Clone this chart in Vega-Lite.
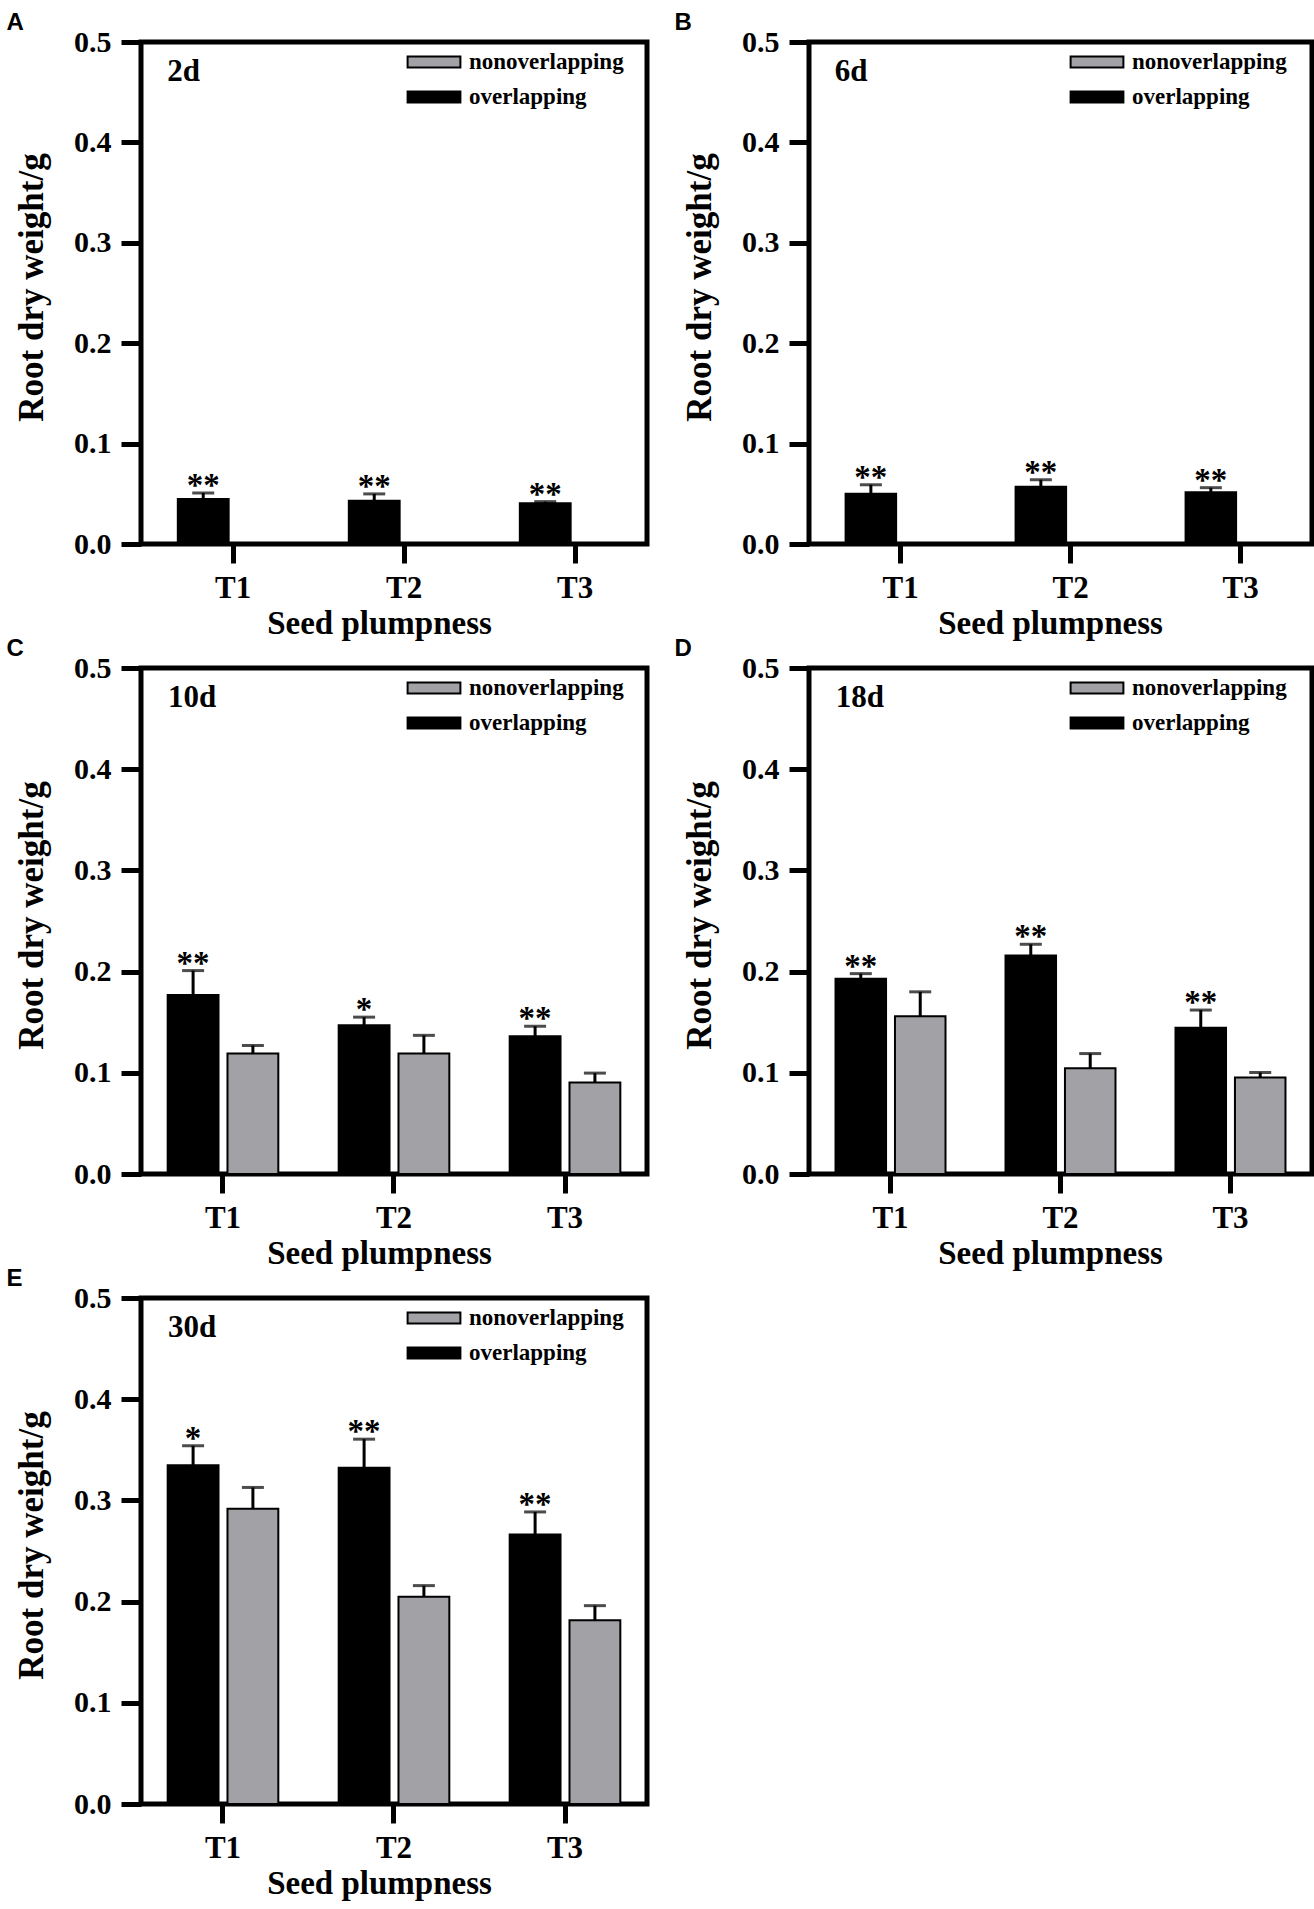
{
  "$schema": "https://vega.github.io/schema/vega-lite/v6.json",
  "description": "Root dry weight of overlapping and nonoverlapping seeds by seed plumpness at 2, 6, 10, 18 and 30 days.",
  "background": "white",
  "padding": {"left": 4, "top": 8, "right": 0, "bottom": 0},
  "datasets": {
    "rdw": [
      {"day": "2d", "T": "T1", "group": "overlapping", "value": 0.0448, "upper": 0.0508, "star": "**"},
      {"day": "2d", "T": "T2", "group": "overlapping", "value": 0.043, "upper": 0.0499, "star": "**"},
      {"day": "2d", "T": "T3", "group": "overlapping", "value": 0.0406, "upper": 0.0422, "star": "**"},
      {"day": "6d", "T": "T1", "group": "overlapping", "value": 0.05, "upper": 0.059, "star": "**"},
      {"day": "6d", "T": "T2", "group": "overlapping", "value": 0.057, "upper": 0.064, "star": "**"},
      {"day": "6d", "T": "T3", "group": "overlapping", "value": 0.0516, "upper": 0.0561, "star": "**"},
      {"day": "10d", "T": "T1", "group": "overlapping", "value": 0.177, "upper": 0.201, "star": "**"},
      {"day": "10d", "T": "T2", "group": "overlapping", "value": 0.147, "upper": 0.155, "star": "*"},
      {"day": "10d", "T": "T3", "group": "overlapping", "value": 0.136, "upper": 0.146, "star": "**"},
      {"day": "10d", "T": "T1", "group": "nonoverlapping", "value": 0.119, "upper": 0.127, "star": ""},
      {"day": "10d", "T": "T2", "group": "nonoverlapping", "value": 0.119, "upper": 0.137, "star": ""},
      {"day": "10d", "T": "T3", "group": "nonoverlapping", "value": 0.0905, "upper": 0.0997, "star": ""},
      {"day": "18d", "T": "T1", "group": "overlapping", "value": 0.193, "upper": 0.198, "star": "**"},
      {"day": "18d", "T": "T2", "group": "overlapping", "value": 0.216, "upper": 0.227, "star": "**"},
      {"day": "18d", "T": "T3", "group": "overlapping", "value": 0.1446, "upper": 0.162, "star": "**"},
      {"day": "18d", "T": "T1", "group": "nonoverlapping", "value": 0.156, "upper": 0.18, "star": ""},
      {"day": "18d", "T": "T2", "group": "nonoverlapping", "value": 0.1046, "upper": 0.119, "star": ""},
      {"day": "18d", "T": "T3", "group": "nonoverlapping", "value": 0.0953, "upper": 0.1003, "star": ""},
      {"day": "30d", "T": "T1", "group": "overlapping", "value": 0.3347, "upper": 0.354, "star": "*"},
      {"day": "30d", "T": "T2", "group": "overlapping", "value": 0.3323, "upper": 0.3605, "star": "**"},
      {"day": "30d", "T": "T3", "group": "overlapping", "value": 0.2663, "upper": 0.2886, "star": "**"},
      {"day": "30d", "T": "T1", "group": "nonoverlapping", "value": 0.2917, "upper": 0.3128, "star": ""},
      {"day": "30d", "T": "T2", "group": "nonoverlapping", "value": 0.2047, "upper": 0.2158, "star": ""},
      {"day": "30d", "T": "T3", "group": "nonoverlapping", "value": 0.1816, "upper": 0.196, "star": ""}
    ]
  },
  "data": {"name": "rdw"},
  "columns": 2,
  "bounds": "flush",
  "spacing": {"row": 124, "column": 162},
  "concat": [
    {
      "title": "A",
      "width": 506,
      "height": 502,
      "transform": [{"filter": "datum.day === '2d'"}],
      "encoding": {
        "x": {"field": "T", "type": "nominal", "scale": {"paddingInner": 0.353, "paddingOuter": 0.156, "align": 0.69}, "axis": {"title": "Seed plumpness", "titleX": 238}},
        "xOffset": {"field": "group", "type": "nominal", "scale": {"domain": ["overlapping", "nonoverlapping"], "paddingInner": 0.15, "paddingOuter": 0}},
        "y": {"field": "value", "type": "quantitative", "scale": {"domain": [0, 0.5], "nice": false}, "axis": {"title": "Root dry weight/g", "titleY": 245, "values": [0, 0.1, 0.2, 0.3, 0.4, 0.5], "format": ".1f"}}
      },
      "layer": [
        {"mark": {"type": "bar", "stroke": "black", "strokeWidth": 2},
         "encoding": {"fill": {"field": "group", "type": "nominal", "scale": {"domain": ["nonoverlapping", "overlapping"], "range": ["#a2a2a6", "#000000"]}}}},
        {"mark": {"type": "rule", "strokeWidth": 3, "color": "black"},
         "encoding": {"y2": {"field": "upper"}}},
        {"mark": {"type": "tick", "size": 22, "thickness": 3, "color": "black"},
         "encoding": {"y": {"field": "upper", "type": "quantitative"}}},
        {"mark": {"type": "text", "font": "Liberation Serif", "fontWeight": "bold", "fontSize": 33, "baseline": "alphabetic", "dy": 3, "color": "black"},
         "encoding": {"y": {"field": "upper", "type": "quantitative"}, "text": {"field": "star"}}},
        {"transform": [{"filter": "datum.T === 'T1' && datum.group === 'overlapping'"}],
         "mark": {"type": "text", "font": "Liberation Serif", "fontWeight": "bold", "fontSize": 31, "align": "left", "baseline": "alphabetic", "dx": -36, "color": "black"},
         "encoding": {"y": {"datum": 0.461}, "text": {"field": "day"}}}
      ]
    },
    {
      "title": "B",
      "width": 503,
      "height": 502,
      "transform": [{"filter": "datum.day === '6d'"}],
      "encoding": {
        "x": {"field": "T", "type": "nominal", "scale": {"paddingInner": 0.353, "paddingOuter": 0.156, "align": 0.69}, "axis": {"title": "Seed plumpness", "titleX": 241}},
        "xOffset": {"field": "group", "type": "nominal", "scale": {"domain": ["overlapping", "nonoverlapping"], "paddingInner": 0.15, "paddingOuter": 0}},
        "y": {"field": "value", "type": "quantitative", "scale": {"domain": [0, 0.5], "nice": false}, "axis": {"title": "Root dry weight/g", "titleY": 245, "values": [0, 0.1, 0.2, 0.3, 0.4, 0.5], "format": ".1f"}}
      },
      "layer": [
        {"mark": {"type": "bar", "stroke": "black", "strokeWidth": 2},
         "encoding": {"fill": {"field": "group", "type": "nominal", "scale": {"domain": ["nonoverlapping", "overlapping"], "range": ["#a2a2a6", "#000000"]}, "legend": {"legendX": 276}}}},
        {"mark": {"type": "rule", "strokeWidth": 3, "color": "black"},
         "encoding": {"y2": {"field": "upper"}}},
        {"mark": {"type": "tick", "size": 22, "thickness": 3, "color": "black"},
         "encoding": {"y": {"field": "upper", "type": "quantitative"}}},
        {"mark": {"type": "text", "font": "Liberation Serif", "fontWeight": "bold", "fontSize": 33, "baseline": "alphabetic", "dy": 3, "color": "black"},
         "encoding": {"y": {"field": "upper", "type": "quantitative"}, "text": {"field": "star"}}},
        {"transform": [{"filter": "datum.T === 'T1' && datum.group === 'overlapping'"}],
         "mark": {"type": "text", "font": "Liberation Serif", "fontWeight": "bold", "fontSize": 31, "align": "left", "baseline": "alphabetic", "dx": -36, "color": "black"},
         "encoding": {"y": {"datum": 0.461}, "text": {"field": "day"}}}
      ]
    },
    {
      "title": "C",
      "width": 506,
      "height": 506,
      "transform": [{"filter": "datum.day === '10d'"}],
      "encoding": {
        "x": {"field": "T", "type": "nominal", "scale": {"paddingInner": 0.353, "paddingOuter": 0.156}, "axis": {"title": "Seed plumpness", "titleX": 238}},
        "xOffset": {"field": "group", "type": "nominal", "scale": {"domain": ["overlapping", "nonoverlapping"], "paddingInner": 0.15, "paddingOuter": 0}},
        "y": {"field": "value", "type": "quantitative", "scale": {"domain": [0, 0.5], "nice": false}, "axis": {"title": "Root dry weight/g", "titleY": 247, "values": [0, 0.1, 0.2, 0.3, 0.4, 0.5], "format": ".1f"}}
      },
      "layer": [
        {"mark": {"type": "bar", "stroke": "black", "strokeWidth": 2},
         "encoding": {"fill": {"field": "group", "type": "nominal", "scale": {"domain": ["nonoverlapping", "overlapping"], "range": ["#a2a2a6", "#000000"]}}}},
        {"mark": {"type": "rule", "strokeWidth": 3, "color": "black"},
         "encoding": {"y2": {"field": "upper"}}},
        {"mark": {"type": "tick", "size": 22, "thickness": 3, "color": "black"},
         "encoding": {"y": {"field": "upper", "type": "quantitative"}}},
        {"mark": {"type": "text", "font": "Liberation Serif", "fontWeight": "bold", "fontSize": 33, "baseline": "alphabetic", "dy": 3, "color": "black"},
         "encoding": {"y": {"field": "upper", "type": "quantitative"}, "text": {"field": "star"}}},
        {"transform": [{"filter": "datum.T === 'T1' && datum.group === 'overlapping'"}],
         "mark": {"type": "text", "font": "Liberation Serif", "fontWeight": "bold", "fontSize": 31, "align": "left", "baseline": "alphabetic", "dx": -25, "color": "black"},
         "encoding": {"y": {"datum": 0.461}, "text": {"field": "day"}}}
      ]
    },
    {
      "title": "D",
      "width": 503,
      "height": 506,
      "transform": [{"filter": "datum.day === '18d'"}],
      "encoding": {
        "x": {"field": "T", "type": "nominal", "scale": {"paddingInner": 0.353, "paddingOuter": 0.156}, "axis": {"title": "Seed plumpness", "titleX": 241}},
        "xOffset": {"field": "group", "type": "nominal", "scale": {"domain": ["overlapping", "nonoverlapping"], "paddingInner": 0.15, "paddingOuter": 0}},
        "y": {"field": "value", "type": "quantitative", "scale": {"domain": [0, 0.5], "nice": false}, "axis": {"title": "Root dry weight/g", "titleY": 247, "values": [0, 0.1, 0.2, 0.3, 0.4, 0.5], "format": ".1f"}}
      },
      "layer": [
        {"mark": {"type": "bar", "stroke": "black", "strokeWidth": 2},
         "encoding": {"fill": {"field": "group", "type": "nominal", "scale": {"domain": ["nonoverlapping", "overlapping"], "range": ["#a2a2a6", "#000000"]}, "legend": {"legendX": 276}}}},
        {"mark": {"type": "rule", "strokeWidth": 3, "color": "black"},
         "encoding": {"y2": {"field": "upper"}}},
        {"mark": {"type": "tick", "size": 22, "thickness": 3, "color": "black"},
         "encoding": {"y": {"field": "upper", "type": "quantitative"}}},
        {"mark": {"type": "text", "font": "Liberation Serif", "fontWeight": "bold", "fontSize": 33, "baseline": "alphabetic", "dy": 3, "color": "black"},
         "encoding": {"y": {"field": "upper", "type": "quantitative"}, "text": {"field": "star"}}},
        {"transform": [{"filter": "datum.T === 'T1' && datum.group === 'overlapping'"}],
         "mark": {"type": "text", "font": "Liberation Serif", "fontWeight": "bold", "fontSize": 31, "align": "left", "baseline": "alphabetic", "dx": -25, "color": "black"},
         "encoding": {"y": {"datum": 0.461}, "text": {"field": "day"}}}
      ]
    },
    {
      "title": "E",
      "width": 506,
      "height": 506,
      "transform": [{"filter": "datum.day === '30d'"}],
      "encoding": {
        "x": {"field": "T", "type": "nominal", "scale": {"paddingInner": 0.353, "paddingOuter": 0.156}, "axis": {"title": "Seed plumpness", "titleX": 238}},
        "xOffset": {"field": "group", "type": "nominal", "scale": {"domain": ["overlapping", "nonoverlapping"], "paddingInner": 0.15, "paddingOuter": 0}},
        "y": {"field": "value", "type": "quantitative", "scale": {"domain": [0, 0.5], "nice": false}, "axis": {"title": "Root dry weight/g", "titleY": 247, "values": [0, 0.1, 0.2, 0.3, 0.4, 0.5], "format": ".1f"}}
      },
      "layer": [
        {"mark": {"type": "bar", "stroke": "black", "strokeWidth": 2},
         "encoding": {"fill": {"field": "group", "type": "nominal", "scale": {"domain": ["nonoverlapping", "overlapping"], "range": ["#a2a2a6", "#000000"]}}}},
        {"mark": {"type": "rule", "strokeWidth": 3, "color": "black"},
         "encoding": {"y2": {"field": "upper"}}},
        {"mark": {"type": "tick", "size": 22, "thickness": 3, "color": "black"},
         "encoding": {"y": {"field": "upper", "type": "quantitative"}}},
        {"mark": {"type": "text", "font": "Liberation Serif", "fontWeight": "bold", "fontSize": 33, "baseline": "alphabetic", "dy": 3, "color": "black"},
         "encoding": {"y": {"field": "upper", "type": "quantitative"}, "text": {"field": "star"}}},
        {"transform": [{"filter": "datum.T === 'T1' && datum.group === 'overlapping'"}],
         "mark": {"type": "text", "font": "Liberation Serif", "fontWeight": "bold", "fontSize": 31, "align": "left", "baseline": "alphabetic", "dx": -25, "color": "black"},
         "encoding": {"y": {"datum": 0.461}, "text": {"field": "day"}}}
      ]
    }
  ],
  "resolve": {
    "scale": {"x": "independent", "y": "independent", "xOffset": "independent", "fill": "independent"},
    "legend": {"fill": "independent"},
    "axis": {"x": "independent", "y": "independent"}
  },
  "config": {
    "view": {"stroke": "black", "strokeWidth": 5},
    "title": {"anchor": "start", "frame": "bounds", "font": "Liberation Sans", "fontSize": 24, "fontWeight": "bold", "color": "black", "offset": -8, "dx": -8},
    "axis": {
      "grid": false,
      "domain": false,
      "ticks": true,
      "tickColor": "black",
      "tickWidth": 5,
      "labelFont": "Liberation Serif",
      "labelFontWeight": "bold",
      "labelColor": "black",
      "titleFont": "Liberation Serif",
      "titleFontWeight": "bold",
      "titleColor": "black"
    },
    "axisX": {"labelAngle": 0, "labelFontSize": 31, "titleFontSize": 33, "tickSize": 19, "labelPadding": 10, "titlePadding": 4},
    "axisY": {"labelFontSize": 30, "titleFontSize": 35, "tickSize": 20, "labelPadding": 10, "titlePadding": 24},
    "legend": {
      "orient": "none",
      "legendX": 281,
      "legendY": 8,
      "padding": 0,
      "title": null,
      "labelFont": "Liberation Serif",
      "labelFontWeight": "bold",
      "labelFontSize": 23,
      "labelColor": "black",
      "labelOffset": 23,
      "rowPadding": 11,
      "symbolType": "M-2.4,-0.5H2.4V0.5H-2.4Z",
      "symbolSize": 484,
      "symbolStrokeColor": "black",
      "symbolStrokeWidth": 2
    }
  }
}
